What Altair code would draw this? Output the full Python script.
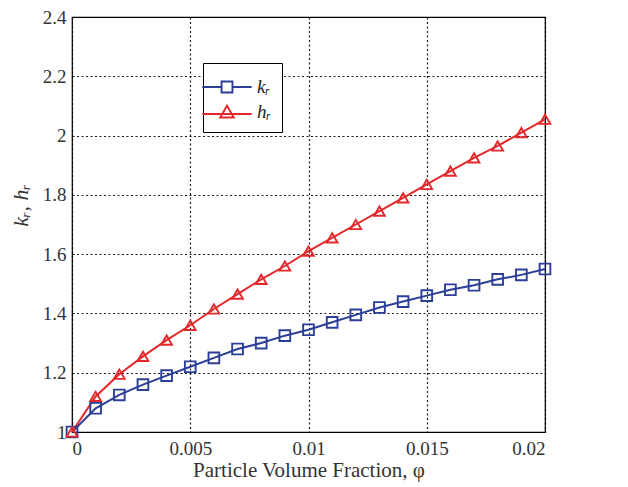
import altair as alt
import pandas as pd

phi = [0.0, 0.001, 0.002, 0.003, 0.004, 0.005, 0.006, 0.007, 0.008, 0.009, 0.010,
       0.011, 0.012, 0.013, 0.014, 0.015, 0.016, 0.017, 0.018, 0.019, 0.020]
k_r = [1.0, 1.08, 1.125, 1.16, 1.19, 1.22, 1.25, 1.28, 1.30, 1.325, 1.345,
       1.37, 1.395, 1.42, 1.44, 1.46, 1.48, 1.495, 1.515, 1.53, 1.55]
h_r = [1.0, 1.12, 1.195, 1.255, 1.31, 1.36, 1.415, 1.465, 1.515, 1.56, 1.61,
       1.655, 1.70, 1.745, 1.79, 1.835, 1.88, 1.925, 1.965, 2.01, 2.055]
series_names = ["kᵣ", "hᵣ"]
x_ticks = [0, 0.005, 0.01, 0.015, 0.02]
y_ticks = [1, 1.2, 1.4, 1.6, 1.8, 2, 2.2, 2.4]

df = pd.DataFrame({
    "phi": phi + phi,
    "value": k_r + h_r,
    "series": [series_names[0]] * len(phi) + [series_names[1]] * len(phi),
})

colors = ["#2c3f97", "#e3282c"]
serif = "Liberation Serif"

x = alt.X("phi:Q", scale=alt.Scale(domain=[0, 0.02]),
          axis=alt.Axis(values=x_ticks, format="~g", title="Particle Volume Fraction, φ"))
y = alt.Y("value:Q", scale=alt.Scale(domain=[1, 2.4]),
          axis=alt.Axis(values=y_ticks, format="~g", title="kᵣ, hᵣ", titleFontStyle="italic",
                        titleY=188))

base = alt.Chart(df)

lines = base.mark_line(strokeWidth=2).encode(
    x=x, y=y,
    color=alt.Color("series:N", scale=alt.Scale(domain=series_names, range=colors), legend=None),
)

points = base.mark_point(filled=False, strokeWidth=1.9, size=115, opacity=1).encode(
    x=x, y=y,
    color=alt.Color("series:N", scale=alt.Scale(domain=series_names, range=colors), legend=None),
    shape=alt.Shape("series:N", scale=alt.Scale(domain=series_names, range=["square", "triangle-up"]), legend=None),
)

sq_path = "M-1.9,0H-0.42M0.42,0H1.9M-0.42,-0.42H0.42V0.42H-0.42Z"
tri_path = "M-1.9,0.15H1.9M0,-0.48L0.52,0.42H-0.52Z"

legend_layer = base.transform_filter("false").mark_point(filled=False, strokeWidth=1.9, size=676, opacity=1).encode(
    x=x, y=y,
    color=alt.Color("series:N", scale=alt.Scale(domain=series_names, range=colors),
                    legend=alt.Legend(title=None)),
    shape=alt.Shape("series:N", scale=alt.Scale(domain=series_names, range=[sq_path, tri_path]),
                    legend=alt.Legend(title=None)),
)

chart = alt.layer(lines, points, legend_layer).resolve_scale(
    shape="independent", color="independent"
).properties(
    width=473, height=415,
    autosize=alt.AutoSizeParams(type="none"),
    padding={"left": 64, "top": 9, "right": 75, "bottom": 55},
).configure_view(
    stroke="black", strokeWidth=1.2
).configure_axis(
    grid=True, gridColor="black", gridDash=[2, 2.5], gridOpacity=0.9, gridWidth=1.2,
    ticks=False, domain=False,
    labelFont=serif, labelFontSize=19, labelColor="#333",
    titleFont=serif, titleFontSize=21, titleFontWeight="normal", titleColor="#333",
).configure_axisX(
    labelPadding=7, titlePadding=1,
).configure_axisY(
    labelPadding=6, titlePadding=10, titleFontSize=22,
).configure_legend(
    orient="none", legendX=131, legendY=46,
    strokeColor="black", fillColor="white", padding=10,
    labelFont=serif, labelFontSize=19, labelFontStyle="italic", labelColor="#222",
    symbolSize=676, symbolStrokeWidth=1.9, labelOffset=16, rowPadding=1,
)

chart.save("out.html", embed_options={"renderer": "svg", "actions": False})
